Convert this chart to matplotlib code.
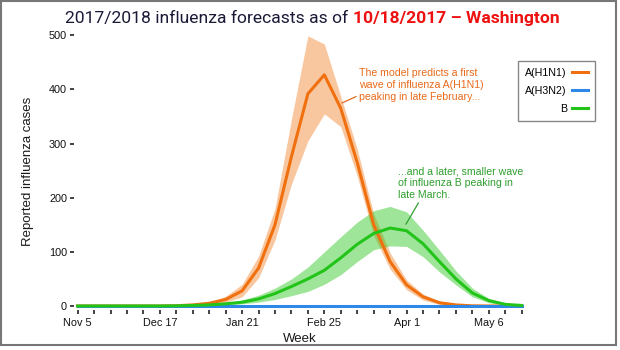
import matplotlib
matplotlib.use("Agg")
import matplotlib.pyplot as plt
from matplotlib.patches import Rectangle

plt.rcParams['font.family'] = ['Liberation Sans', 'DejaVu Sans']

# weekly forecast, week 0 = Nov 5
weeks = list(range(28))
tick_labels = ['Nov 5', 'Dec 17', 'Jan 21', 'Feb 25', 'Apr 1', 'May 6']

h1n1_med = [0, 0, 0, 0, 0, 0, 0.5, 2, 5, 12, 28, 70, 150, 276, 392, 427, 365, 265,
            150, 82, 39, 17, 6, 2, 0.3, 0, 0, 0]
h1n1_lo = [0, 0, 0, 0, 0, 0, 0, 1, 3, 7, 17, 52, 122, 225, 305, 355, 331, 240,
           130, 68, 30, 11, 3, 0.5, 0, 0, 0, 0]
h1n1_hi = [0, 0, 0, 0, 0, 0, 1, 3, 7, 18, 40, 92, 180, 345, 499, 484, 387, 290,
           170, 98, 48, 22, 9, 3, 1, 0, 0, 0]

h3n2_med = [0] * 28

b_med = [0, 0, 0, 0, 0, 0, 0.3, 1, 2, 4, 7, 13, 23, 36, 50, 66, 89, 114,
         134, 144, 139, 115, 82, 50, 24, 10, 3, 1]
b_lo = [0, 0, 0, 0, 0, 0, 0, 0.5, 1, 2, 4, 7, 12, 19, 27, 40, 58, 82,
        104, 111, 110, 91, 63, 39, 17, 6, 2, 0.5]
b_hi = [0, 0, 0, 0, 0, 0, 0.6, 2, 3, 6, 11, 20, 33, 50, 72, 100, 128, 155,
        176, 184, 174, 140, 103, 65, 33, 14, 5, 1.5]

c_orange = '#F0700F'
c_blue = '#2E88E8'
c_green = '#22C41A'

fig = plt.figure(figsize=(6.2, 3.5), dpi=100)
ax = fig.add_axes([74 / 620, 1 - 310 / 350, (525 - 74) / 620, (310 - 32.6) / 350])

ax.fill_between(weeks, h1n1_lo, h1n1_hi, color='#F27511', alpha=0.4, lw=0)
ax.fill_between(weeks, b_lo, b_hi, color='#11C000', alpha=0.4, lw=0)
ax.plot(weeks, h1n1_med, color=c_orange, lw=2.2, label='A(H1N1)')
ax.plot(weeks, h3n2_med, color=c_blue, lw=2.2, label='A(H3N2)')
ax.plot(weeks, b_med, color=c_green, lw=2.2, label='B')

ax.set_xlim(-0.22, 27.2)
ax.set_ylim(-7.4, 505)
for s in ax.spines.values():
    s.set_visible(False)

ax.set_xticks(weeks)
ax.set_xticklabels([tick_labels[w // 5] if w % 5 == 0 else '' for w in weeks])
ax.set_yticks([0, 100, 200, 300, 400, 500])
ax.tick_params(axis='both', labelsize=7.8, colors='#222222', labelcolor='#111111',
               length=3, width=1.2, pad=2)
ax.tick_params(axis='x', pad=3)
ax.set_xlabel('Week', fontsize=9.5, color='#1a1a1a', labelpad=3)
ax.set_ylabel('Reported influenza cases', fontsize=9.5, color='#1a1a1a', labelpad=11)

# annotations
ax.annotate('The model predicts a first\nwave of influenza A(H1N1)\npeaking in late February...',
            xy=(16.07, 375), xytext=(17.1, 408), ha='left', va='center',
            fontsize=7.6, color='#E86A1A', linespacing=1.25,
            arrowprops=dict(arrowstyle='-', color='#E86A1A', lw=0.9,
                            shrinkA=0, shrinkB=0, relpos=(0, 0.2)))
ax.annotate('...and a later, smaller wave\nof influenza B peaking in\nlate March.',
            xy=(19.96, 151), xytext=(19.45, 227), ha='left', va='center',
            fontsize=7.6, color='#2E9E2E', linespacing=1.25,
            arrowprops=dict(arrowstyle='-', color='#2E9E2E', lw=0.9,
                            shrinkA=0, shrinkB=0, relpos=(0.18, 0)))

leg = ax.legend(loc='upper right', bbox_to_anchor=(595 / 620, 1 - 61 / 350),
                bbox_transform=fig.transFigure, borderaxespad=0, markerfirst=False,
                fontsize=7.7, handlelength=1.5, handletextpad=0.5, labelspacing=0.75,
                borderpad=0.65, fancybox=False, edgecolor='#888888', framealpha=1)
leg.get_frame().set_linewidth(1.0)

# title in two colours
fig.canvas.draw()
r = fig.canvas.get_renderer()
t1 = fig.text(65 / 620, 1 - 19 / 350, '2017/2018 influenza forecasts as of ',
              fontsize=12.6, color='#1a1a38', va='center', ha='left', family='Roboto')
bb = t1.get_window_extent(renderer=r)
fig.text(bb.x1 / fig.bbox.width, 1 - 19 / 350, '10/18/2017 \u2013 Washington',
         fontsize=12.6, color='#EE1111', va='center', ha='left', family='Roboto',
         weight='bold')

# outer frame
fig.patches.append(Rectangle((1 / 620, 1 - 345 / 350), 615 / 620, 344 / 350,
                             transform=fig.transFigure, fill=False,
                             edgecolor='#777777', lw=1.5))

fig.savefig('out.png', dpi=100)
